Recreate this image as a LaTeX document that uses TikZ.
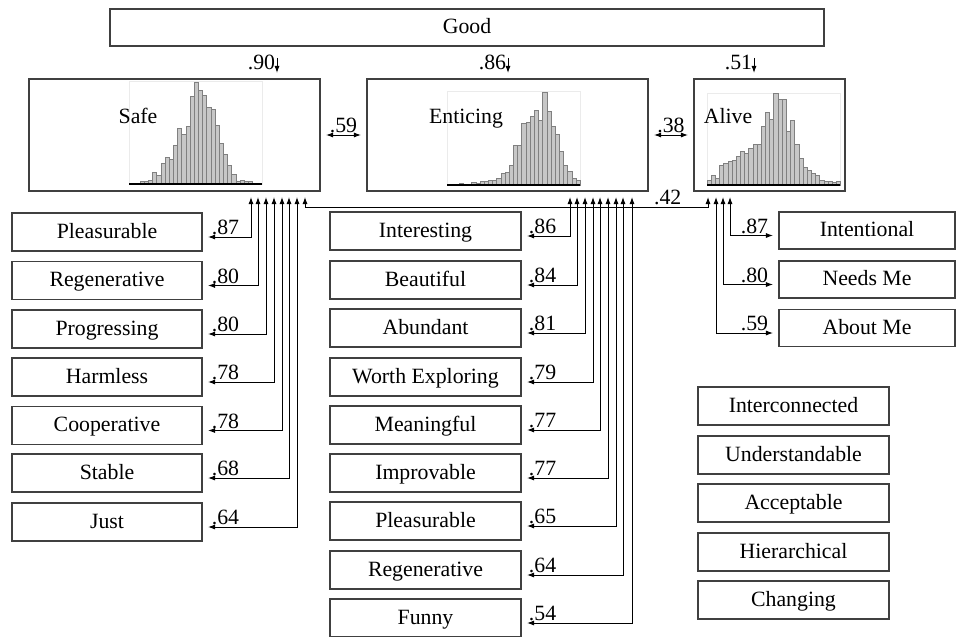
\documentclass[tikz,border=0pt]{standalone}
\usepackage{fontspec}
\setmainfont{Liberation Serif}
\usepackage{tikz}
\usetikzlibrary{
    arrows.meta,
    calc
}

% one unit of the picture
\newdimen\pxu
\pxu=0.025cm

% bar heights of the three histograms (tallest bar = 1)
\newcommand{\safebars}{0.03,0.03,0.04,0.12,0.09,0.2,0.26,0.24,0.38,0.55,0.49,0.57,0.86,1,0.92,0.87,0.75,0.73,0.58,0.4,0.29,0.18,0.1,0.03,0.04,0.03,0.03}
\newcommand{\enticebars}{0.01,0.02,0.01,0.01,0.03,0.02,0.04,0.04,0.05,0.05,0.07,0.13,0.14,0.21,0.43,0.43,0.66,0.67,0.74,0.8,0.7,1,0.79,0.63,0.55,0.36,0.21,0.15,0.07,0.05}
\newcommand{\alivebars}{0.05,0.11,0.07,0.22,0.24,0.26,0.27,0.31,0.37,0.35,0.4,0.44,0.44,0.64,0.79,0.71,1,0.93,0.93,0.58,0.7,0.44,0.29,0.19,0.16,0.13,0.11,0.05,0.04,0.04,0.03,0.04}

\tikzset{
    boxtext/.style={text height=10.3pt, text depth=1.7pt},
    panel/.style={draw=black!75, line width=0.9pt, inner sep=0pt, outer sep=6\pxu, boxtext},
    itembox/.style={panel, minimum width=190\pxu, minimum height=38\pxu},
    loadarr/.style={{Latex[length=5pt,width=3.6pt]}-{Latex[length=5pt,width=3.6pt]}, line width=0.7pt},
    gdarr/.style={-{Latex[length=5pt,width=3.6pt]}, line width=0.7pt},
    ldlab/.style={inner sep=1pt},
    bar/.style={fill=black!22, draw=black!50, line width=0.35pt},
    plotframe/.style={draw=black!8, line width=0.4pt},
    axisline/.style={line width=1.6pt}
}

\begin{document}
\begin{tikzpicture}[x=\pxu, y=-\pxu, font=\fontsize{15.5pt}{18pt}\selectfont]
        \useasboundingbox (0,0) rectangle (959,637);

        % Top factor and the three sub-factors
        \node[panel, minimum width=714\pxu, minimum height=37\pxu] (good) at (467,27.5) {Good};
        \node[panel, minimum width=291\pxu, minimum height=112\pxu] (safe) at (174.5,135) {};
        \node[panel, minimum width=281\pxu, minimum height=112\pxu] (entice) at (507.5,135) {};
        \node[panel, minimum width=151\pxu, minimum height=112\pxu] (alive) at (769.5,135) {};

        % Histograms
        \draw[plotframe] (129,81) rectangle (262,184);
        \foreach \h [count=\i] in \safebars
            \draw[bar] ({140+(\i-1)*4.17},184) rectangle ++(4.17,{-\h*102});
        \draw[axisline] (129,184) -- (262,184);
        \draw[plotframe] (447,91) rectangle (580,185);
        \foreach \h [count=\i] in \enticebars
            \draw[bar] ({455+(\i-1)*4.17},185) rectangle ++(4.17,{-\h*93});
        \draw[axisline] (447,185) -- (580,185);
        \draw[plotframe] (707,93) rectangle (840,185);
        \foreach \h [count=\i] in \alivebars
            \draw[bar] ({707+(\i-1)*4.17},185) rectangle ++(4.17,{-\h*92});
        \draw[axisline] (707,185) -- (840,185);

        \node[boxtext] (safelab) at (138,117) {Safe};
        \node[boxtext] (enticelab) at (466,117) {Enticing};
        \node[boxtext] (alivelab) at (728,117) {Alive};

        % Loadings on Good
        \draw[gdarr, shorten <=6\pxu] (277,0 |- good.south) -- node[ldlab, left] {.90} (277,0 |- safe.north);
        \draw[gdarr, shorten <=6\pxu] (508,0 |- good.south) -- node[ldlab, left] {.86} (508,0 |- entice.north);
        \draw[gdarr, shorten <=6\pxu] (754,0 |- good.south) -- node[ldlab, left] {.51} (754,0 |- alive.north);

        % Correlations
        \draw[loadarr] (safe) -- node[ldlab, above] {.59} (entice);
        \draw[loadarr] (entice) -- node[ldlab, above] {.38} (alive);
        \draw[loadarr] (305,0 |- safe.south) -- (305,207) -- node[ldlab, above, pos=0.9] {.42} (708,207) -- (708,0 |- alive.south);

        % Items of Safe
        \foreach \nm/\txt/\yc/\vx/\ld in {sPleas/Pleasurable/232/251/.87, sRegen/Regenerative/280.5/258/.80,
                sProg/Progressing/329/266/.80, sHarm/Harmless/377/274/.78, sCoop/Cooperative/425.5/282/.78,
                sStab/Stable/473/289/.68, sJust/Just/522/297/.64}{
            \node[itembox] (\nm) at (107,\yc) {\txt};
            \draw[loadarr] ($(\nm.east)+(0,5)$) node[ldlab, anchor=south west, xshift=2\pxu] {\ld} -| (\vx,0 |- safe.south);
        }

        % Items of Enticing
        \foreach \nm/\txt/\yc/\vx/\ld in {eInter/Interesting/231/570/.86, eBeaut/Beautiful/280/577/.84,
                eAbund/Abundant/328/585/.81, eWorth/Worth Exploring/377/593/.79, eMean/Meaningful/425/600/.77,
                eImpr/Improvable/473/608/.77, ePleas/Pleasurable/521/616/.65, eRegen/Regenerative/570/623/.64,
                eFunny/Funny/618/632/.54}{
            \node[itembox, minimum width=191\pxu] (\nm) at (425.5,\yc) {\txt};
            \draw[loadarr] ($(\nm.east)+(0,5)$) node[ldlab, anchor=south west] {\ld} -| (\vx,0 |- entice.south);
        }

        % Items of Alive
        \foreach \nm/\txt/\yc/\vx/\ld in {aInt/Intentional/230.5/730/.87, aNeeds/Needs Me/279.5/723/.80,
                aAbout/About Me/328/716/.59}{
            \node[itembox, minimum width=176\pxu, minimum height=37\pxu] (\nm) at (867,\yc) {\txt};
            \draw[loadarr] ($(\nm.west)+(0,5)$) node[ldlab, anchor=south east, xshift=-3\pxu] {\ld} -| (\vx,0 |- alive.south);
        }

        % Items without a factor
        \foreach \nm/\txt/\yc in {fInter/Interconnected/406, fUnder/Understandable/455,
                fAccept/Acceptable/503, fHier/Hierarchical/552, fChang/Changing/600}
            \node[itembox, minimum width=191\pxu] (\nm) at (793.5,\yc) {\txt};
    \end{tikzpicture}
\end{document}
